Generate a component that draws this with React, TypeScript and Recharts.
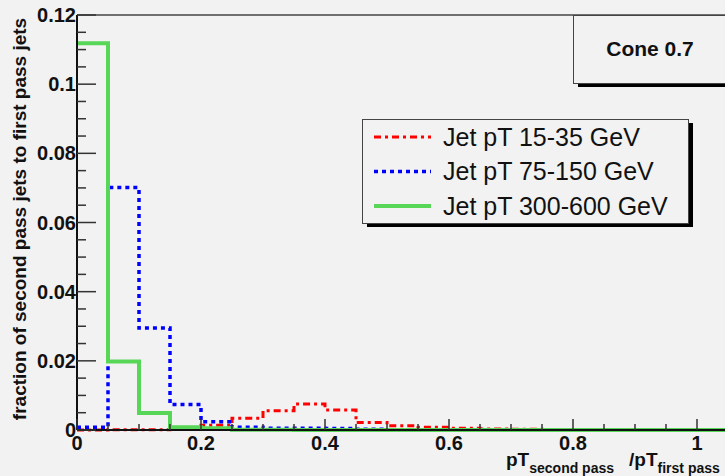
import { ComposedChart, Line, XAxis, YAxis, ReferenceLine, Legend } from "recharts";

// bin lower edges of the histograms (width 0.05), last entry closes the final bin
const binEdges = [
  0, 0.05, 0.1, 0.15, 0.2, 0.25, 0.3, 0.35, 0.4, 0.45, 0.5, 0.55,
  0.6, 0.65, 0.7, 0.75, 0.8, 0.85, 0.9, 0.95, 1, 1.05, 1.1,
];

// fraction of second pass jets per bin
const jet15to35 = [
  0, 0.0001, 0.0001, 0.0002, 0.0014, 0.0034, 0.0056, 0.0075, 0.0058, 0.0022, 0.0012,
  0.0008, 0.0005, 0.0003, 0.0002, 0.0001, 0.0001, 0, 0, 0, 0, 0,
];
const jet75to150 = [
  0.0008, 0.0701, 0.0295, 0.0074, 0.0024, 0.0008, 0.0005, 0.0005, 0.0004, 0.0002, 0.0001,
  0, 0, 0, 0, 0, 0, 0, 0, 0, 0, 0,
];
const jet300to600 = [
  0.1118, 0.0198, 0.0049, 0.0008, 0.0005, 0.0001, 0.0001, 0, 0, 0, 0,
  0, 0, 0, 0, 0, 0, 0, 0, 0, 0, 0,
];

const seriesNames = ["Jet pT 15-35 GeV", "Jet pT 75-150 GeV", "Jet pT 300-600 GeV"];

const xMajorTicks = [0, 0.2, 0.4, 0.6, 0.8, 1];
const xTickLabels = ["0", "0.2", "0.4", "0.6", "0.8", "1"];
const yMajorTicks = [0, 0.02, 0.04, 0.06, 0.08, 0.1, 0.12];
const yTickLabels = ["0", "0.02", "0.04", "0.06", "0.08", "0.1", "0.12"];
const yMinorStep = 0.005;

const FONT = "'Liberation Sans', Arial, Helvetica, sans-serif";
const BG = "#f2f2f2";

const series = [
  { key: "red", name: seriesNames[0], color: "#ff0000", width: 3, dash: "7 4 3 4" },
  { key: "blue", name: seriesNames[1], color: "#0000ff", width: 3.5, dash: "4 4" },
  { key: "green", name: seriesNames[2], color: "#57d657", width: 4, dash: undefined },
];

const last = jet15to35.length - 1;
const table = binEdges.map((x, i) => ({
  x,
  red: jet15to35[Math.min(i, last)],
  blue: jet75to150[Math.min(i, last)],
  green: jet300to600[Math.min(i, last)],
}));

const xTicks = binEdges.slice(0, 22);
const yTicks = Array.from({ length: 25 }, (_, i) => Math.round(i * yMinorStep * 1000) / 1000);

const findMajor = (v: number, majors: number[]) =>
  majors.findIndex((m) => Math.abs(m - v) < 1e-9);

const XTick = (props: any) => {
  const { x, y, payload } = props;
  const idx = findMajor(payload.value, xMajorTicks);
  const len = idx >= 0 ? 11 : 6;
  return (
    <g>
      <line x1={x} x2={x} y1={y} y2={y - len} stroke="#333" strokeWidth={1.5} />
      {idx >= 0 && (
        <text x={x} y={y + 20} textAnchor="middle" fontSize={20} fontWeight="bold" fill="#111" fontFamily={FONT}>
          {xTickLabels[idx]}
        </text>
      )}
    </g>
  );
};

const YTick = (props: any) => {
  const { x, y, payload } = props;
  const idx = findMajor(payload.value, yMajorTicks);
  const len = idx >= 0 ? 19 : 9;
  return (
    <g>
      <line x1={x} x2={x + len} y1={y} y2={y} stroke="#333" strokeWidth={1.5} />
      {idx >= 0 && (
        <text x={x - 1} y={y + 7} textAnchor="end" fontSize={20} fontWeight="bold" fill="#111" fontFamily={FONT}>
          {yTickLabels[idx]}
        </text>
      )}
    </g>
  );
};

const LegendBox = () => (
  <svg width={332} height={110} style={{ display: "block" }}>
    <rect x={5} y={4} width={326} height={104} fill="#000" />
    <rect x={0.5} y={0.5} width={326} height={104} fill={BG} stroke="#444" strokeWidth={1} />
    {series.map((s, i) => {
      const cy = 18 + i * 34.5;
      return (
        <g key={s.key}>
          <line x1={12} x2={69} y1={cy} y2={cy} stroke={s.color} strokeWidth={s.width} strokeDasharray={s.dash} />
          <text x={81} y={cy + 8.5} fontSize={25} fill="#111" fontFamily={FONT}>
            {s.name}
          </text>
        </g>
      );
    })}
  </svg>
);

export default function App() {
  return (
    <div
      style={{
        position: "absolute",
        left: 0,
        top: 0,
        width: 725,
        height: 476,
        overflow: "hidden",
        background: BG,
        fontFamily: FONT,
      }}
    >
      <ComposedChart width={759} height={476} data={table} margin={{ top: 15, right: 0, bottom: 0, left: 0 }}>
        <XAxis
          dataKey="x"
          type="number"
          domain={[0, 1.1]}
          ticks={xTicks}
          interval={0}
          tick={<XTick />}
          tickSize={0}
          tickMargin={0}
          tickLine={false}
          height={46}
          allowDataOverflow
          axisLine={{ stroke: "#111", strokeWidth: 2 }}
          label={{
            content: () => (
              <text x={506} y={466} fontWeight="bold" fill="#111" fontFamily={FONT}>
                <tspan fontSize={19}>pT</tspan>
                <tspan fontSize={14} dy={7}>second pass</tspan>
                <tspan fontSize={19} dx={15} dy={-7}>/pT</tspan>
                <tspan fontSize={14} dy={7}>first pass</tspan>
              </text>
            ),
          }}
        />
        <YAxis
          type="number"
          domain={[0, 0.12]}
          ticks={yTicks}
          interval={0}
          tick={<YTick />}
          tickSize={0}
          tickMargin={0}
          tickLine={false}
          width={77}
          axisLine={{ stroke: "#111", strokeWidth: 2 }}
          label={{
            content: () => (
              <text
                x={26}
                y={219}
                transform="rotate(-90, 26, 219)"
                textAnchor="middle"
                fontSize={19}
                fontWeight="bold"
                fill="#111"
                fontFamily={FONT}
              >
                fraction of second pass jets to first pass jets
              </text>
            ),
          }}
        />
        <ReferenceLine y={0.12} stroke="#444" strokeWidth={1.5} />
        {series.map((s) => (
          <Line
            key={s.key}
            type="stepAfter"
            dataKey={s.key}
            name={s.name}
            stroke={s.color}
            strokeWidth={s.width}
            strokeDasharray={s.dash}
            dot={false}
            activeDot={false}
            isAnimationActive={false}
          />
        ))}
        <Legend
          layout="horizontal"
          verticalAlign="middle"
          align="center"
          wrapperStyle={{ left: 362, top: 119, width: 332, height: 110 }}
          content={() => <LegendBox />}
        />
      </ComposedChart>
      <svg width={160} height={75} style={{ position: "absolute", left: 573, top: 15 }}>
        <rect x={5} y={4} width={160} height={68} fill="#000" />
        <rect x={0.5} y={0.5} width={170} height={68} fill={BG} stroke="#444" strokeWidth={1} />
        <text x={77} y={41} textAnchor="middle" fontSize={21} fontWeight="bold" fill="#111" fontFamily={FONT}>
          Cone 0.7
        </text>
      </svg>
    </div>
  );
}
